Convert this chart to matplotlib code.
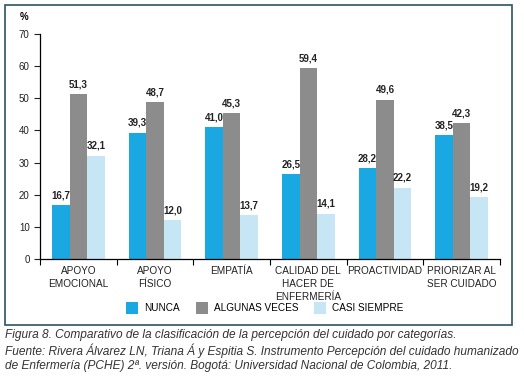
import numpy as np
import matplotlib.pyplot as plt
from matplotlib.patches import Rectangle

categorias = ["APOYO\nEMOCIONAL", "APOYO\nFÍSICO", "EMPATÍA",
              "CALIDAD DEL\nHACER DE\nENFERMERÍA", "PROACTIVIDAD",
              "PRIORIZAR AL\nSER CUIDADO"]
nunca = [16.7, 39.3, 41.0, 26.5, 28.2, 38.5]
algunas = [51.3, 48.7, 45.3, 59.4, 49.6, 42.3]
casi = [32.1, 12.0, 13.7, 14.1, 22.2, 19.2]
series = ["NUNCA", "ALGUNAS VECES", "CASI SIEMPRE"]
colores = ["#19a8e2", "#8c8c8c", "#c6e6f6"]

plt.rcParams['font.family'] = ['Liberation Sans', 'DejaVu Sans']

fig = plt.figure(figsize=(5.24, 3.78), dpi=100)
fig.patches.append(Rectangle((5/524, 1-325/378), 507/524, 320/378,
                             transform=fig.transFigure, fill=False,
                             edgecolor="#2a5560", linewidth=1.2))

ax = fig.add_axes([40/524, 1-259/378, 460/524, 225/378])
x = np.arange(len(categorias))
w = 0.23
for i, (vals, nom, col) in enumerate(zip([nunca, algunas, casi], series, colores)):
    pos = x + (i - 1) * w
    ax.bar(pos, vals, w, color=col, label=nom)
    for p, v in zip(pos, vals):
        ax.text(p, v + 1.5, f"{v:.1f}".replace(".", ","), ha="center", va="bottom",
                fontsize=7, fontweight="bold", color="#222222")

ax.set_xlim(-0.5, len(categorias) - 0.5)
ax.set_ylim(0, 70)
ax.set_yticks(range(0, 71, 10))
ax.set_xticks(x)
ax.set_xticklabels(categorias, fontsize=7.2, color="#222222", linespacing=1.35)
ax.set_xticks(np.arange(-0.5, len(categorias), 1), minor=True)
ax.tick_params(axis="x", which="major", length=0, pad=5)
ax.tick_params(axis="x", which="minor", length=4, width=0.8)
ax.tick_params(axis="y", length=4, width=0.8, labelsize=7, colors="#222222")
for s in ["top", "right"]:
    ax.spines[s].set_visible(False)
ax.spines["left"].set_linewidth(0.9)
ax.spines["bottom"].set_linewidth(0.9)
fig.text(24/524, 1-17/378, "%", fontsize=7, fontweight="bold", ha="center", va="center")

fig.legend(loc="center", bbox_to_anchor=(265/524, 1-308/378), ncol=3, frameon=False,
           fontsize=7.2, handlelength=1.2, handleheight=1.4, columnspacing=1.6,
           handletextpad=0.6)

caption = ("Figura 8. Comparativo de la clasificación de la percepción del cuidado por categorías.\n"
           "Fuente: Rivera Álvarez LN, Triana Á y Espitia S. Instrumento Percepción del cuidado humanizado\n"
           "de Enfermería (PCHE) 2ª. versión. Bogotá: Universidad Nacional de Colombia, 2011.")
fig.text(5/524, 1-329/378, caption, fontsize=8.6, style="italic", color="#333333",
         ha="left", va="top", linespacing=1.2)

fig.savefig("out.png", dpi=100)
